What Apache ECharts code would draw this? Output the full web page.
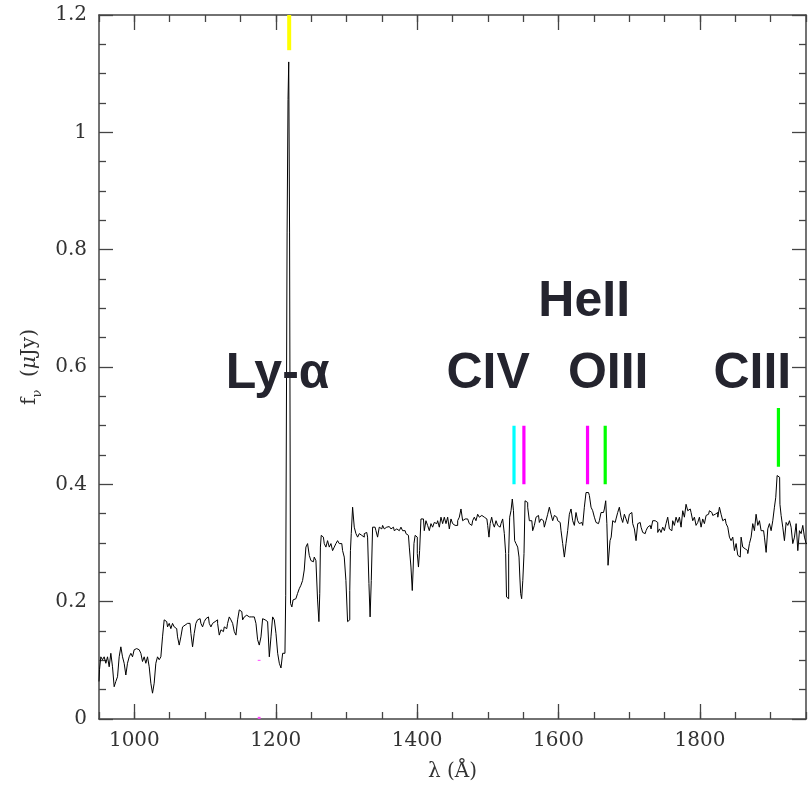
<!DOCTYPE html>
<html><head><meta charset="utf-8">
<script src="https://cdn.jsdelivr.net/npm/echarts@6/dist/echarts.min.js"></script>
<style>html,body{margin:0;padding:0;background:#fff}#c{width:809px;height:787px}</style>
</head><body><div id="c"></div>
<script>
// ---- spectrum (wavelength in Å, flux in μJy) ----
const wavelengths = [
950.0,951.4,953.8,956.1,958.5,960.9,963.2,965.6,967.9,970.3,
972.6,975.0,977.4,979.7,982.1,984.4,986.8,989.1,991.5,993.9,
996.2,998.6,1000.9,1003.3,1005.7,1008.0,1010.4,1012.7,1015.1,1017.4,
1019.8,1022.2,1024.5,1026.9,1029.2,1031.6,1034.0,1036.3,1038.7,1041.0,
1043.4,1045.8,1048.1,1050.5,1052.8,1055.2,1057.6,1059.9,1062.3,1064.6,
1067.0,1069.4,1071.7,1074.1,1076.4,1078.8,1081.2,1083.5,1085.9,1088.2,
1090.6,1093.0,1095.3,1097.7,1100.0,1102.4,1104.8,1107.1,1109.5,1111.8,
1114.2,1116.6,1118.9,1121.3,1123.6,1126.0,1128.4,1130.7,1133.1,1135.4,
1137.8,1140.2,1142.5,1144.9,1147.2,1149.6,1152.0,1154.3,1156.7,1159.0,
1161.4,1163.7,1166.1,1168.5,1170.8,1173.2,1175.5,1177.9,1180.3,1182.6,
1185.0,1187.3,1189.7,1192.1,1194.4,1196.8,1199.1,1201.5,1203.9,1206.2,
1208.6,1210.9,1213.0,1215.2,1216.9,1217.8,1218.9,1220.2,1221.6,
1224.0,1225.0,1227.3,1229.7,1232.0,1234.4,1236.8,1239.1,1241.5,1243.8,
1246.2,1248.6,1250.9,1253.3,1255.6,1258.0,1260.3,1261.8,1262.7,1263.6,
1265.1,1267.4,1269.8,1272.1,1274.5,1276.9,1279.2,1281.6,1283.9,1286.3,
1288.6,1291.0,1293.4,1295.7,1298.1,1300.4,1302.8,1304.2,1305.2,1306.1,
1307.5,1309.9,1312.2,1314.6,1317.0,1319.3,1321.7,1324.0,1326.4,1328.7,
1331.1,1332.5,1334.4,1335.8,1338.2,1340.5,1342.9,1345.2,1347.6,1350.0,
1352.3,1354.7,1357.0,1359.4,1361.8,1364.1,1366.5,1368.8,1371.2,1373.6,
1375.9,1378.3,1380.6,1383.0,1385.3,1387.7,1390.1,1392.4,1393.8,1394.8,
1396.2,1398.1,1399.5,1400.9,1402.8,1404.2,1406.6,1408.9,1411.3,1413.6,
1416.0,1418.4,1420.7,1423.1,1425.4,1427.8,1430.2,1432.5,1434.9,1437.2,
1439.6,1442.0,1444.3,1446.7,1449.0,1451.4,1453.7,1456.1,1458.5,1460.8,
1463.2,1465.5,1467.9,1470.3,1472.6,1475.0,1477.3,1479.7,1482.0,1484.4,
1486.8,1489.1,1491.5,1493.8,1496.2,1498.6,1500.9,1502.3,1504.2,1506.6,
1508.0,1510.4,1512.7,1515.1,1517.4,1519.8,1522.1,1524.5,1525.9,1526.9,
1528.7,1530.2,1531.6,1533.9,1535.3,1537.2,1538.6,1541.0,1543.4,1544.8,
1545.7,1547.1,1548.5,1550.4,1551.9,1553.3,1555.2,1557.5,1559.9,1562.2,
1564.6,1567.0,1569.3,1571.7,1574.0,1576.4,1578.7,1581.1,1583.5,1585.8,
1588.2,1590.5,1592.9,1595.3,1597.6,1600.0,1602.3,
1604.7,1607.0,1609.4,1611.7,1614.1,1616.5,1618.8,1621.2,1623.5,1625.9,
1628.2,1630.6,1633.0,1635.3,1637.7,1640.0,1642.4,1644.8,1647.1,1649.5,
1651.8,1654.2,1656.5,1658.9,1661.3,1663.6,1666.0,1667.4,1669.3,1670.7,
1672.1,1673.5,1675.4,1677.8,1680.1,1682.5,1684.8,1687.2,1689.6,1691.9,
1694.3,1696.6,1699.0,1701.4,1703.7,1706.1,1708.4,1710.8,1713.2,1715.5,
1717.9,1720.2,1722.6,1724.9,1727.3,1729.7,1732.0,1734.4,1736.7,1739.1,
1741.5,1743.8,1746.2,1748.5,1750.9,1753.2,1755.6,1758.0,1760.3,1762.7,
1765.0,1767.4,1769.8,1772.1,1774.5,1776.8,1779.2,1781.5,1783.9,1786.3,
1788.6,1791.0,1793.3,1795.7,1798.1,1800.4,1802.8,1805.1,1807.5,1809.9,
1812.2,1814.6,1816.9,1819.3,1821.6,1824.0,1826.4,1828.7,1831.1,1833.4,
1835.8,1838.2,1840.5,1842.9,1845.2,1847.6,1850.0,1852.3,1854.7,1857.0,
1859.4,1861.7,1864.1,1866.5,1868.8,1871.2,1873.5,1875.9,1878.2,1880.6,
1883.0,1885.3,1887.7,1890.0,1892.4,1894.8,1897.1,1899.5,1901.8,1904.2,
1906.5,1908.0,1910.3,1912.7,1913.6,1916.0,1918.3,1920.7,1923.1,1925.4,
1927.8,1930.1,1932.5,1934.9,1937.2,1939.6,1941.9,1944.3,1946.6,1949.0,1951.4
];
const flux = [
0.064,0.084,0.106,0.101,0.106,0.095,0.106,0.089,0.112,0.089,
0.055,0.064,0.072,0.106,0.123,0.106,0.095,0.075,0.095,0.106,
0.112,0.106,0.118,0.120,0.118,0.120,0.112,0.098,0.106,0.095,
0.106,0.089,0.061,0.044,0.061,0.095,0.106,0.101,0.106,0.140,
0.169,0.166,0.157,0.163,0.154,0.163,0.157,0.154,0.140,0.126,
0.140,0.157,0.160,0.163,0.160,0.163,0.146,0.123,0.146,0.163,
0.169,0.171,0.163,0.157,0.166,0.171,0.174,0.163,0.157,0.163,
0.166,0.169,0.163,0.143,0.152,0.149,0.157,0.154,0.163,0.174,
0.169,0.163,0.149,0.143,0.169,0.186,0.183,0.169,0.174,0.177,
0.174,0.177,0.174,0.174,0.171,0.163,0.135,0.126,0.140,0.171,
0.169,0.166,0.163,0.106,0.140,0.174,0.169,0.146,0.112,0.095,
0.087,0.112,0.112,0.21,0.83,1.056,1.12,0.83,0.197,
0.191,0.203,0.205,0.208,0.214,0.222,0.228,0.236,0.254,0.293,
0.299,0.279,0.270,0.268,0.276,0.270,0.203,0.166,0.214,0.293,
0.313,0.310,0.299,0.293,0.304,0.293,0.299,0.287,0.293,0.299,
0.304,0.299,0.299,0.287,0.276,0.236,0.166,0.169,0.219,0.287,
0.316,0.361,0.327,0.316,0.310,0.316,0.313,0.310,0.316,0.318,
0.310,0.231,0.174,0.236,0.327,0.327,0.321,0.310,0.327,0.324,
0.330,0.324,0.327,0.328,0.330,0.324,0.327,0.321,0.324,0.321,
0.324,0.327,0.321,0.321,0.316,0.313,0.293,0.259,0.219,0.254,
0.299,0.313,0.310,0.282,0.259,0.287,0.341,0.341,0.321,0.338,
0.330,0.321,0.333,0.327,0.335,0.333,0.338,0.327,0.344,0.333,
0.344,0.333,0.344,0.324,0.341,0.333,0.330,0.330,0.338,0.344,
0.358,0.338,0.341,0.341,0.344,0.333,0.330,0.338,0.344,0.338,
0.349,0.344,0.347,0.344,0.341,0.341,0.330,0.310,0.333,0.344,
0.333,0.327,0.338,0.330,0.327,0.333,0.341,0.316,0.282,0.208,
0.205,0.282,0.344,0.355,0.375,0.355,0.304,0.299,0.293,0.276,
0.242,0.214,0.205,0.236,0.282,0.372,0.369,0.361,0.338,0.338,
0.321,0.330,0.344,0.347,0.335,0.341,0.338,0.327,0.338,0.349,
0.361,0.349,0.338,0.347,0.344,0.338,0.335,
0.321,0.299,0.276,0.299,0.321,0.349,0.358,0.338,0.330,0.352,
0.338,0.333,0.335,0.330,0.361,0.386,0.386,0.381,0.361,0.355,
0.344,0.335,0.333,0.338,0.352,0.352,0.358,0.372,0.333,0.262,
0.265,0.304,0.310,0.338,0.335,0.341,0.352,0.361,0.344,0.335,
0.349,0.341,0.333,0.349,0.352,0.333,0.324,0.304,0.333,0.335,
0.327,0.318,0.316,0.321,0.327,0.330,0.324,0.338,0.338,0.335,
0.318,0.324,0.318,0.327,0.321,0.333,0.344,0.324,0.321,0.338,
0.330,0.344,0.335,0.344,0.327,0.355,0.344,0.366,0.355,0.358,
0.352,0.338,0.344,0.330,0.335,0.344,0.327,0.341,0.333,0.347,
0.349,0.355,0.352,0.347,0.349,0.352,0.344,0.361,0.349,0.338,
0.341,0.333,0.327,0.310,0.304,0.310,0.287,0.299,0.279,0.276,
0.310,0.293,0.290,0.287,0.282,0.299,0.310,0.333,0.321,0.349,
0.330,0.338,0.321,0.321,0.310,0.284,0.324,0.333,0.321,0.338,
0.361,0.378,0.415,0.412,0.366,0.347,0.327,0.304,0.335,0.330,
0.338,0.327,0.299,0.310,0.333,0.287,0.321,0.316,0.330,0.310,0.299
];

// ---- axis ticks ----
const xMajorTicks = [1000, 1200, 1400, 1600, 1800];

// ---- line identification markers ----
const markerWavelengths = [1219, 1537, 1551, 1641, 1666, 1911];
const markerLow  = [1.14, 0.40, 0.40, 0.40, 0.40, 0.43];
const markerHigh = [1.20, 0.50, 0.50, 0.50, 0.50, 0.53];
const markerColors = ['#ffff00', '#00ffff', '#ff00ff', '#ff00ff', '#00ff00', '#00ff00'];

// ---- line labels ----
const labelNames = ['Ly-α', 'CIV', 'HeII', 'OIII', 'CIII'];
const labelWavelengths = [1202.6, 1500.4, 1636.3, 1670.2, 1874.0];
const labelFlux = [0.587, 0.587, 0.711, 0.587, 0.587];

const spectrum = [];
for (let i = 0; i < Math.min(wavelengths.length, flux.length); i++) spectrum.push([wavelengths[i], flux[i]]);

const axisColor = '#444';
const tickFont = { fontFamily: 'DejaVu Serif', fontSize: 20, color: '#333' };

function xAx(pos, major, withLabels) {
  const a = {
    type: 'value', position: pos, min: 950, max: 1950, gridIndex: 0,
    splitLine: { show: false },
    axisLine: { show: !major, lineStyle: { color: axisColor, width: 1.5 } },
    axisTick: { show: true, inside: true, length: major ? 15 : 7, lineStyle: { color: axisColor, width: 1.3 } },
    axisLabel: { show: false }
  };
  if (major) { a.axisTick.customValues = xMajorTicks; }
  else { a.interval = 50; }
  if (withLabels) {
    a.axisLabel = Object.assign({ show: true, margin: 12,
      formatter: v => (v % 200 === 0 && v >= 1000 && v <= 1800) ? String(v) : '' }, tickFont);
    a.name = 'λ (Å)';
    a.nameLocation = 'middle';
    a.nameGap = 43;
    a.nameTextStyle = { fontFamily: 'DejaVu Serif', fontSize: 20, color: '#333' };
  }
  return a;
}
function yAx(pos, withLabels) {
  const a = {
    type: 'value', position: pos, min: 0, max: 1.2, interval: 0.2,
    splitLine: { show: false }, minorSplitLine: { show: false },
    axisLine: { show: true, lineStyle: { color: axisColor, width: 1.5 } },
    axisTick: { show: true, inside: true, length: 14, lineStyle: { color: axisColor, width: 1.3 } },
    minorTick: { show: true, splitNumber: 4, length: 7, lineStyle: { color: axisColor, width: 1.3 } },
    axisLabel: { show: false }
  };
  if (withLabels) {
    a.axisLabel = Object.assign({ show: true, margin: 12 }, tickFont);
    a.name = '{f|f}{s|ν}{t|  (}{m|μ}{t|Jy)}';
    a.nameLocation = 'middle';
    a.nameGap = 58;
    a.nameTextStyle = {
      fontFamily: 'DejaVu Serif', fontSize: 20, color: '#333',
      rich: {
        f: { fontFamily: 'DejaVu Serif', fontSize: 20, color: '#333' },
        s: { fontFamily: 'DejaVu Serif', fontSize: 13, color: '#333', verticalAlign: 'bottom', padding: [0, 0, -4, 0] },
        t: { fontFamily: 'DejaVu Serif', fontSize: 20, color: '#333' },
        m: { fontFamily: 'DejaVu Serif', fontSize: 20, color: '#333', fontStyle: 'italic' }
      }
    };
  }
  return a;
}

const series = [{
  type: 'line', data: spectrum, step: 'middle', showSymbol: false, silent: true,
  xAxisIndex: 0, yAxisIndex: 0, lineStyle: { color: '#000', width: 1 }, z: 2
}];
markerWavelengths.forEach((w, i) => {
  series.push({
    type: 'line', xAxisIndex: 0, yAxisIndex: 0, showSymbol: false, silent: true, z: 3,
    data: [[w, markerLow[i]], [w, markerHigh[i]]],
    lineStyle: { color: markerColors[i], width: i === 0 ? 4 : 3.2, cap: 'butt' }
  });
});
// tiny magenta ticks seen in the original
series.push({ type: 'line', xAxisIndex: 0, yAxisIndex: 0, showSymbol: false, silent: true, z: 3,
  data: [[1174.5, 0.1], [1178.5, 0.1]], lineStyle: { color: '#ff44ff', width: 1 } });
series.push({ type: 'line', xAxisIndex: 0, yAxisIndex: 0, showSymbol: false, silent: true, z: 3,
  data: [[1174.5, 0.002], [1178.5, 0.002]], lineStyle: { color: '#ff44ff', width: 2 } });

series.push({
  type: 'scatter', xAxisIndex: 0, yAxisIndex: 0, symbolSize: 0, silent: true, z: 5,
  itemStyle: { color: '#2a2a36', opacity: 1 },
  data: labelNames.map((n, i) => ({ name: n, value: [labelWavelengths[i], labelFlux[i]] })),
  label: { show: true, position: 'inside', formatter: '{b}', fontFamily: 'Liberation Sans, Arial, sans-serif',
    fontWeight: 'bold', fontSize: 50, color: '#24242e', opacity: 1, textBorderWidth: 0 }
});

const chart = echarts.init(document.getElementById('c'), null, { renderer: 'canvas' });
chart.setOption({
  animation: false,
  backgroundColor: '#fff',
  grid: { left: 99, top: 15, width: 708, height: 708, containLabel: false },
  xAxis: [xAx('bottom', false, true), xAx('bottom', true, false), xAx('top', false, false), xAx('top', true, false)],
  yAxis: [yAx('left', true), yAx('right', false)],
  series: series
});
</script>
</body></html>
